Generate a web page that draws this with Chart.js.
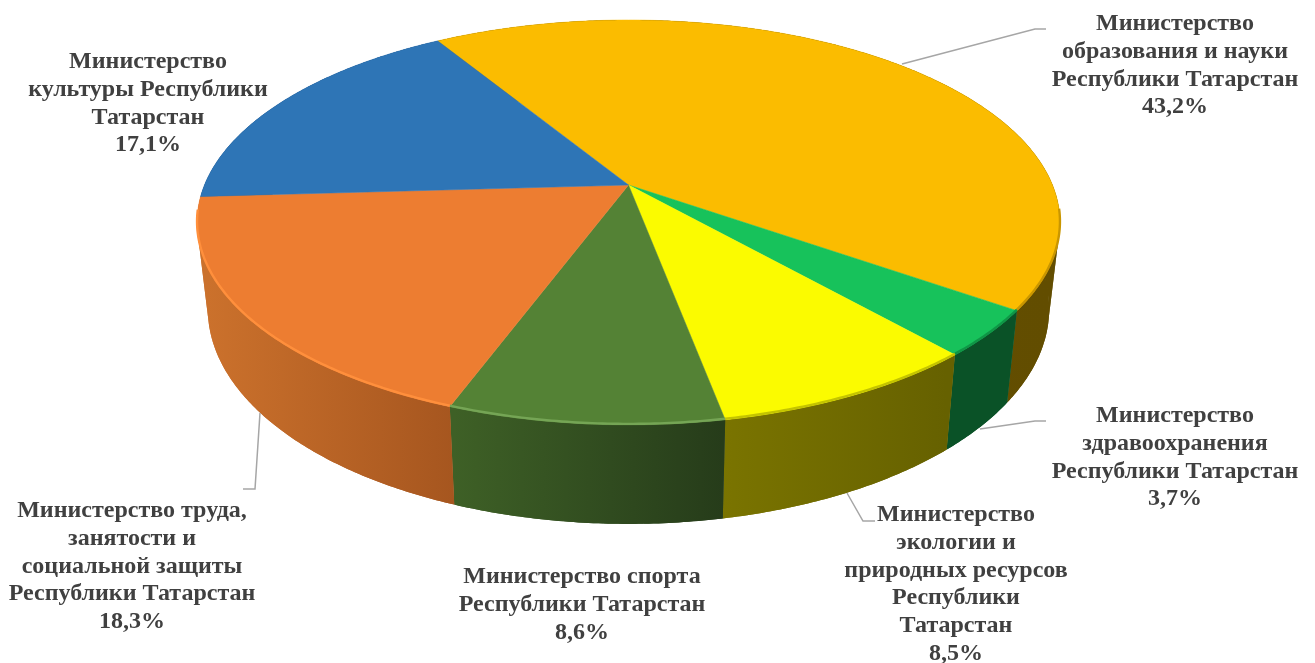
<!DOCTYPE html>
<html>
<head>
<meta charset="utf-8">
<style>
  html, body { margin: 0; padding: 0; background: #fff; overflow: hidden; }
  canvas { display: block; }
</style>
<script src="https://cdn.jsdelivr.net/npm/chart.js@4/dist/chart.umd.min.js"></script>
</head>
<body>
<canvas id="pieChart" width="1315" height="663"></canvas>
<script>
// data
const categories = [
  ['Министерство', 'образования и науки', 'Республики Татарстан'],
  ['Министерство', 'здравоохранения', 'Республики Татарстан'],
  ['Министерство', 'экологии и', 'природных ресурсов', 'Республики', 'Татарстан'],
  ['Министерство спорта', 'Республики Татарстан'],
  ['Министерство труда,', 'занятости и', 'социальной защиты', 'Республики Татарстан'],
  ['Министерство', 'культуры Республики', 'Татарстан']
];
const shares = [43.2, 3.7, 8.5, 8.6, 18.3, 17.1];

// slice styles
const topColors = ['#fbbc00', '#17c25b', '#fbfb00', '#548235', '#ed7d31', '#2e75b6'];
const rimColors = ['#c99600', '#0f9646', '#c4c400', '#75a555', '#ff8f3c', '#2e75b6'];
const wallLeft = ['#6a5300', '#0a5227', '#7a7400', '#3e6026', '#cb712c', '#1f4f7c'];
const wallRight = ['#624d00', '#0a5227', '#666100', '#263c1a', '#a6561f', '#1f4f7c'];
const wallOrder = [5, 0, 1, 2, 3, 4];   // back to front

// label layout: centre x, first line y, [leader line points]
const labelPlaces = [
  { x: 1175, y: 24, line: [[902, 64], [1035, 29], [1046, 29]] },
  { x: 1175, y: 416, line: [[980, 429], [1035, 421], [1046, 421]] },
  { x: 956, y: 515, line: [[847, 493], [863, 521], [875, 521]] },
  { x: 582, y: 577, line: null },
  { x: 132, y: 511, line: [[260, 413], [255, 489], [243, 489]] },
  { x: 148, y: 62, line: null }
];

// perspective of the disc
const apexX = 628.5, apexY = 185;
const scaleX = 424, scaleY = 195.5, tilt = 0.185;
const ellipseY = 222.5, baseY = 309, baseScaleX = 0.975, baseScaleY = 1.062;

function topPoint(a) {
  const w = 1 - tilt * Math.sin(a);
  return [apexX + scaleX * Math.cos(a) / w, apexY + scaleY * Math.sin(a) / w];
}
function basePoint(a) {
  const p = topPoint(a);
  return [apexX + baseScaleX * (p[0] - apexX), baseY + baseScaleY * (p[1] - ellipseY)];
}
function sampleAngles(start, end) {
  const n = Math.max(4, Math.ceil((end - start) / 0.01));
  const out = [];
  for (let i = 0; i <= n; i++) out.push(start + (end - start) * i / n);
  return out;
}
function fillWall(ctx, angles) {
  ctx.beginPath();
  angles.forEach(a => { const q = topPoint(a); ctx.lineTo(q[0], q[1]); });
  angles.slice().reverse().forEach(a => { const q = basePoint(a); ctx.lineTo(q[0], q[1]); });
  ctx.closePath();
  ctx.fill();
}

const pie3d = {
  id: 'pie3d',
  beforeDatasetDraw() { return false; },   // the flat pie is not wanted, only its angles
  afterDatasetsDraw(chart) {
    const ctx = chart.ctx;
    const arcs = chart.getDatasetMeta(0).data;
    ctx.save();

    // walls first, the top faces cover the back part
    wallOrder.forEach(i => {
      const arc = arcs[i];
      const angles = sampleAngles(arc.startAngle, arc.endAngle);
      const xs = angles.map(a => basePoint(a)[0]);
      const g = ctx.createLinearGradient(Math.min(...xs), 0, Math.max(...xs), 0);
      g.addColorStop(0, wallLeft[i]);
      g.addColorStop(1, wallRight[i]);
      ctx.fillStyle = g;
      // short pieces fill the side turns, the whole shape then hides their joins
      for (let j = 0; j < angles.length - 1; j += 8) {
        fillWall(ctx, angles.slice(j, j + 9));
      }
      fillWall(ctx, angles);
    });

    // top faces
    arcs.forEach((arc, i) => {
      ctx.beginPath();
      ctx.moveTo(apexX, apexY);
      sampleAngles(arc.startAngle, arc.endAngle).forEach(a => {
        const p = topPoint(a);
        ctx.lineTo(p[0], p[1]);
      });
      ctx.closePath();
      ctx.fillStyle = topColors[i];
      ctx.strokeStyle = topColors[i];
      ctx.lineWidth = 0.5;
      ctx.fill();
      ctx.stroke();
    });

    // soft rim on the front edge
    ctx.lineCap = 'butt';
    arcs.forEach((arc, i) => {
      ctx.beginPath();
      let pen = false;
      sampleAngles(arc.startAngle, arc.endAngle).forEach(a => {
        if (Math.sin(a) < 0.12) return;
        const p = topPoint(a);
        const y = p[1] - 1;
        if (pen) ctx.lineTo(p[0], y); else ctx.moveTo(p[0], y);
        pen = true;
      });
      ctx.strokeStyle = rimColors[i];
      ctx.lineWidth = 2.4;
      ctx.filter = 'blur(0.7px)';
      ctx.stroke();
      ctx.filter = 'none';
    });

    // leader lines
    ctx.strokeStyle = '#a6a6a6';
    ctx.lineWidth = 1.5;
    ctx.lineJoin = 'miter';
    labelPlaces.forEach(place => {
      if (!place.line) return;
      ctx.beginPath();
      place.line.forEach((p, k) => k ? ctx.lineTo(p[0], p[1]) : ctx.moveTo(p[0], p[1]));
      ctx.stroke();
    });

    // labels with percent
    ctx.font = 'bold 24px "Liberation Serif"';
    ctx.fillStyle = '#404040';
    ctx.textAlign = 'center';
    ctx.textBaseline = 'middle';
    categories.forEach((lines, i) => {
      const place = labelPlaces[i];
      const all = lines.concat(shares[i].toFixed(1).replace('.', ',') + '%');
      all.forEach((text, k) => ctx.fillText(text, place.x, place.y + k * 27.7));
    });
    ctx.restore();
  }
};

new Chart(document.getElementById('pieChart'), {
  type: 'pie',
  data: {
    labels: categories,
    datasets: [{ data: shares, backgroundColor: topColors, borderWidth: 0 }]
  },
  options: {
    responsive: false,
    animation: false,
    rotation: -31.4,
    plugins: {
      legend: { display: false },
      tooltip: { enabled: false }
    }
  },
  plugins: [pie3d]
});
</script>
</body>
</html>
